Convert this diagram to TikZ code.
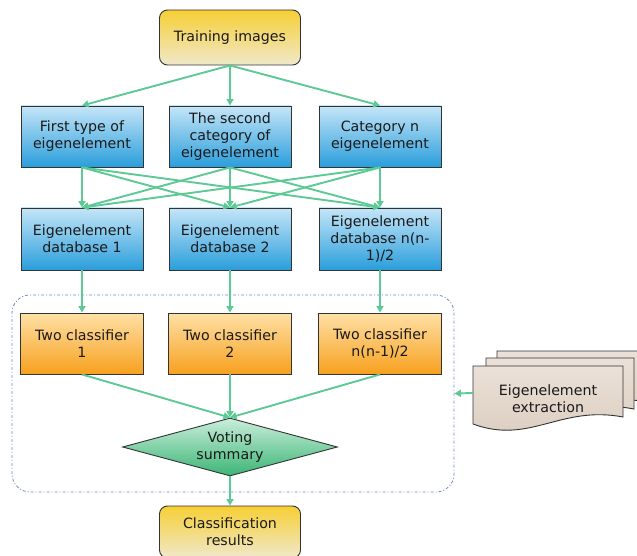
\documentclass[tikz,border=0pt]{standalone}
\usepackage{fontspec}
\setmainfont{DejaVu Sans}
\usetikzlibrary{shapes.geometric,arrows.meta}
\definecolor{arrowgreen}{HTML}{5DC994}
\definecolor{boxborder}{HTML}{333333}
\definecolor{textc}{HTML}{1A1A1A}
\definecolor{blueTop}{HTML}{C4E5F8}
\definecolor{blueBot}{HTML}{2A9EDB}
\definecolor{orTop}{HTML}{FFE0A6}
\definecolor{orBot}{HTML}{F7A11E}
\definecolor{yeTop}{HTML}{F6CF35}
\definecolor{yeBot}{HTML}{F0E8CA}
\definecolor{grTop}{HTML}{CAEEDA}
\definecolor{grBot}{HTML}{3BB576}
\definecolor{docTop}{HTML}{EBE1D8}
\definecolor{docBot}{HTML}{DACBBD}
\definecolor{dashblue}{HTML}{6F8BC0}
\tikzset{
  box/.style={draw=boxborder, line width=0.9pt, inner sep=0pt, align=center,
    font=\fontsize{14.2}{17}\selectfont, text=textc},
  bluebox/.style={box, top color=blueTop, bottom color=blueBot,
    minimum width=122pt, minimum height=61pt},
  orbox/.style={box, top color=orTop, bottom color=orBot,
    minimum width=123pt, minimum height=61pt},
  yebox/.style={box, top color=yeTop, bottom color=yeBot,
    minimum width=141pt, rounded corners=8pt},
  arr/.style={draw=arrowgreen, line width=1.9pt,
    -{Triangle[length=6.5pt,width=7pt]}},
  docshape/.style={draw=boxborder, line width=0.9pt, top color=docTop, bottom color=docBot}
}
\begin{document}
\begin{tikzpicture}[x=1pt,y=-1pt]
\useasboundingbox (0,0) rectangle (637,556);

% container
\node[draw=dashblue, line width=0.8pt, dash pattern=on 3pt off 2pt on 1pt off 2pt,
  rounded corners=18pt, minimum width=442pt, minimum height=197pt, inner sep=0pt]
  (container) at (233,393.5) {};

% nodes
\node[yebox, minimum height=55pt] (train) at (230,37.5) {Training images};

\node[bluebox] (a1) at (82,136.5) {First type of\\eigenelement};
\node[bluebox] (a2) at (230,136.5) {The second\\category of\\eigenelement};
\node[bluebox] (a3) at (380,136.5) {Category n\\eigenelement};

\node[bluebox, minimum height=62pt] (b1) at (82,239) {Eigenelement\\database 1};
\node[bluebox, minimum height=62pt] (b2) at (230,239) {Eigenelement\\database 2};
\node[bluebox, minimum height=62pt] (b3) at (380,239) {Eigenelement\\database n(n-\\1)/2};

\node[orbox] (c1) at (82,343.5) {Two classifier\\1};
\node[orbox] (c2) at (230,343.5) {Two classifier\\2};
\node[orbox] (c3) at (380,343.5) {Two classifier\\n(n-1)/2};

\node[box, diamond, aspect=3.7, minimum width=215pt, minimum height=58pt,
  top color=grTop, bottom color=grBot] (vote) at (230,447) {Voting\\summary};

\node[yebox, minimum height=52pt] (cls) at (230,532) {Classification\\results};

% documents
\draw[docshape, shift={(24,-15)}] (473,366) -- (623,366) -- (623,417)
  .. controls (560,405) and (530,445) .. (473,424) -- cycle;
\draw[docshape, shift={(13,-8)}] (473,366) -- (621,366) -- (621,417)
  .. controls (560,405) and (530,445) .. (473,424) -- cycle;
\draw[docshape] (473,366) -- (623,366) -- (623,417)
  .. controls (560,405) and (530,445) .. (473,424) -- cycle;
\node[align=center, font=\fontsize{14.2}{17}\selectfont, text=textc, inner sep=0pt]
  (ext) at (548,399) {Eigenelement\\extraction};
\coordinate (extW) at (473,393);

% connectors
\foreach \t in {a1,a2,a3} \draw[arr] (train.south) -- (\t.north);
\foreach \s in {a1,a2,a3}
  \foreach \t in {b1,b2,b3}
    \draw[arr] (\s.south) -- (\t.north);
\draw[arr] (b1.south) -- (c1.north);
\draw[arr] (b2.south) -- (c2.north);
\draw[arr] (b3.south) -- (c3.north);
\foreach \s in {c1,c2,c3} \draw[arr] (\s.south) -- (vote.north);
\draw[arr] (vote.south) -- (cls.north);
\draw[arr] (extW) -- (container.east);
\end{tikzpicture}
\end{document}
